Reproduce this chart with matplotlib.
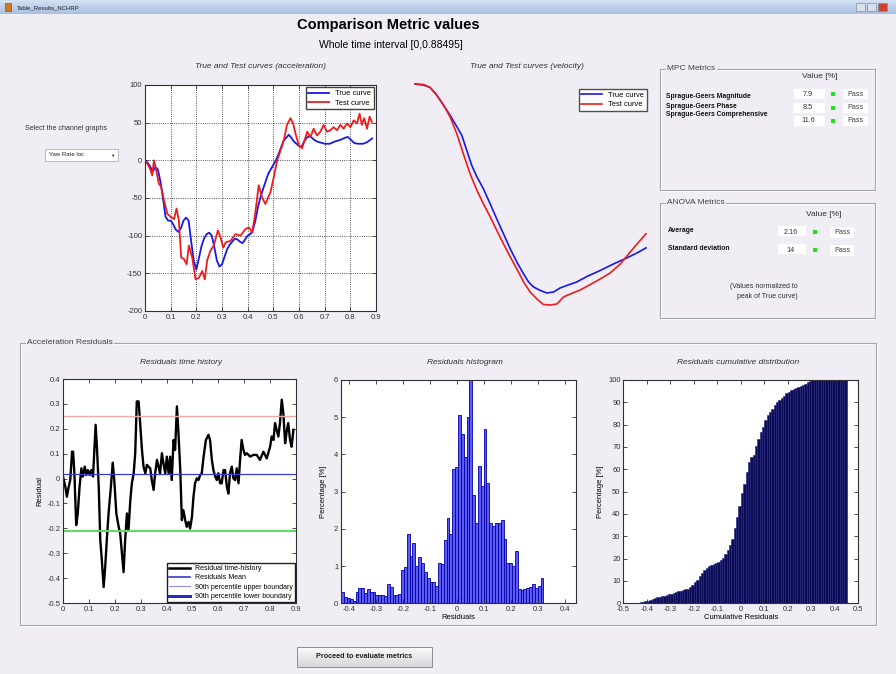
import numpy as np
import matplotlib
matplotlib.use('Agg')
import matplotlib.pyplot as plt
from matplotlib.patches import Rectangle
from matplotlib.lines import Line2D
from matplotlib.ticker import FuncFormatter, MultipleLocator

plt.rcParams['font.family'] = ['Liberation Sans', 'DejaVu Sans']

# ---------------- data ----------------
acc_t_true = [0.000, 0.010, 0.020, 0.030, 0.040, 0.050, 0.060, 0.070, 0.080, 0.090,
              0.100, 0.110, 0.120, 0.130, 0.140, 0.150, 0.160, 0.170, 0.180, 0.190,
              0.200, 0.210, 0.220, 0.230, 0.240, 0.250, 0.260, 0.270, 0.280, 0.290,
              0.300, 0.310, 0.320, 0.330, 0.340, 0.350, 0.360, 0.370, 0.380, 0.390,
              0.400, 0.410, 0.420, 0.430, 0.440, 0.450, 0.460, 0.470, 0.480, 0.490,
              0.500, 0.510, 0.520, 0.530, 0.540, 0.550, 0.560, 0.570, 0.580, 0.590,
              0.600, 0.610, 0.620, 0.630, 0.640, 0.650, 0.660, 0.670, 0.680, 0.690,
              0.700, 0.720, 0.740, 0.760, 0.780, 0.790, 0.800, 0.815, 0.830, 0.850,
              0.865, 0.885]
acc_true = [0, -3, -8, -15, -9, -12, -28, -50, -75, -80,
            -80, -85, -92, -95, -90, -80, -76, -80, -108, -133,
            -145, -130, -114, -104, -98, -96, -100, -115, -133, -141,
            -138, -128, -118, -112, -108, -104, -105, -108, -110, -105,
            -100, -98, -93, -80, -62, -49, -38, -28, -18, -12,
            -6, 0, 8, 17, 26, 30, 34, 30, 25, 22,
            19, 18, 25, 30, 32, 30, 27, 25, 24, 23,
            22, 22, 25, 27, 30, 31, 28, 23, 22, 22,
            24, 29]

acc_t_test = [0.000, 0.010, 0.022, 0.028, 0.035, 0.041, 0.054, 0.063, 0.074, 0.087,
              0.100, 0.113, 0.123, 0.132, 0.141, 0.152, 0.162, 0.171, 0.184, 0.197,
              0.210, 0.223, 0.233, 0.242, 0.255, 0.268, 0.284, 0.294, 0.305, 0.314,
              0.333, 0.353, 0.372, 0.392, 0.405, 0.418, 0.430, 0.443, 0.456, 0.469,
              0.489, 0.502, 0.515, 0.528, 0.541, 0.553, 0.567, 0.577, 0.586, 0.599,
              0.612, 0.622, 0.632, 0.645, 0.657, 0.670, 0.683, 0.696, 0.709, 0.722,
              0.735, 0.748, 0.761, 0.774, 0.787, 0.800, 0.813, 0.826, 0.836, 0.845,
              0.854, 0.865, 0.875, 0.884]
acc_test = [0, -5, -13, -20, 0, -9, -31, -35, -53, -71,
            -75, -78, -64, -80, -129, -131, -138, -113, -129, -158,
            -156, -147, -158, -133, -120, -113, -93, -102, -116, -109,
            -107, -98, -100, -91, -89, -96, -69, -33, -49, -58,
            -42, -22, 0, 13, 27, 47, 56, 49, 36, 20,
            16, 27, 38, 31, 42, 33, 38, 47, 38, 40,
            44, 40, 47, 42, 49, 44, 53, 49, 62, 47,
            56, 42, 58, 51]

vel_t_true = [0.000, 0.032, 0.058, 0.083, 0.109, 0.134, 0.160, 0.179, 0.198, 0.217,
              0.237, 0.262, 0.288, 0.313, 0.339, 0.365, 0.390, 0.416, 0.435, 0.454,
              0.480, 0.505, 0.531, 0.556, 0.582, 0.620, 0.659, 0.710, 0.761, 0.812,
              0.851, 0.885]
vel_true = [0.0, -0.2, -0.7, -2.2, -4.2, -6.2, -8.5, -10.2, -13.2, -16.2,
            -18.5, -20.9, -23.9, -26.9, -29.9, -32.9, -35.5, -37.9, -39.5, -40.5,
            -41.2, -41.7, -41.5, -40.7, -40.2, -39.5, -38.4, -37.2, -35.9, -34.7,
            -33.7, -32.7]
vel_t_test = [0.000, 0.032, 0.058, 0.083, 0.109, 0.134, 0.160, 0.185, 0.211, 0.237,
              0.262, 0.288, 0.313, 0.339, 0.365, 0.390, 0.416, 0.441, 0.467, 0.492,
              0.518, 0.544, 0.569, 0.595, 0.633, 0.672, 0.710, 0.748, 0.787, 0.825,
              0.863, 0.885]
vel_test = [0.0, -0.1, -0.7, -2.2, -4.2, -6.5, -9.9, -13.9, -17.9, -21.2,
            -23.9, -26.5, -29.2, -31.9, -34.5, -36.9, -39.5, -41.5, -42.9, -44.0,
            -44.1, -43.9, -42.5, -41.9, -41.1, -40.0, -38.9, -37.7, -35.9, -33.5,
            -31.2, -29.9]

res_t = [0.000, 0.009, 0.015, 0.022, 0.028, 0.035, 0.039, 0.044, 0.051, 0.057,
         0.064, 0.071, 0.077, 0.084, 0.090, 0.096, 0.103, 0.109, 0.116, 0.121,
         0.126, 0.131, 0.138, 0.144, 0.150, 0.157, 0.163, 0.170, 0.176, 0.185,
         0.192, 0.198, 0.206, 0.215, 0.221, 0.228, 0.234, 0.240, 0.247, 0.253,
         0.260, 0.266, 0.273, 0.279, 0.285, 0.292, 0.298, 0.305, 0.311, 0.318,
         0.324, 0.330, 0.337, 0.343, 0.350, 0.356, 0.363, 0.369, 0.375, 0.382,
         0.388, 0.395, 0.401, 0.408, 0.414, 0.420, 0.427, 0.433, 0.440, 0.446,
         0.453, 0.459, 0.465, 0.472, 0.478, 0.485, 0.491, 0.498, 0.504, 0.510,
         0.517, 0.523, 0.530, 0.536, 0.543, 0.552, 0.562, 0.568, 0.575, 0.581,
         0.588, 0.594, 0.600, 0.607, 0.613, 0.620, 0.626, 0.633, 0.639, 0.645,
         0.652, 0.658, 0.665, 0.671, 0.678, 0.684, 0.690, 0.697, 0.703, 0.710,
         0.723, 0.735, 0.748, 0.761, 0.774, 0.787, 0.800, 0.806, 0.813, 0.819,
         0.825, 0.832, 0.838, 0.845, 0.851, 0.858, 0.864, 0.870, 0.877, 0.883,
         0.890]
res_val = [0.008, -0.033, -0.073, -0.033, -0.006, 0.108, 0.108, 0.021, -0.187, -0.140,
           -0.033, 0.041, 0.008, 0.048, 0.014, 0.034, 0.014, 0.034, 0.008, 0.115,
           0.216, 0.128, -0.033, -0.248, -0.328, -0.436, -0.355, -0.234, -0.140, -0.033,
           0.064, -0.006, -0.140, -0.194, -0.221, -0.302, -0.376, -0.248, -0.140, -0.208,
           -0.087, -0.019, 0.021, 0.102, 0.310, 0.310, 0.223, 0.115, 0.048, 0.021,
           0.055, 0.048, 0.041, -0.006, -0.046, 0.021, 0.075, 0.048, 0.021, 0.102,
           0.061, 0.021, 0.088, 0.021, 0.088, -0.006, 0.155, 0.115, 0.290, 0.182,
           0.034, -0.167, -0.127, -0.167, -0.194, -0.174, -0.201, -0.154, -0.073, -0.019,
           0.001, -0.006, 0.014, 0.021, 0.088, 0.155, 0.176, 0.155, 0.075, 0.034,
           0.008, -0.006, 0.021, -0.019, -0.019, 0.034, 0.034, -0.033, -0.060, 0.021,
           0.048, 0.001, -0.006, 0.041, -0.019, 0.075, 0.155, 0.115, 0.095, 0.102,
           0.088, 0.095, 0.095, 0.075, 0.108, 0.081, 0.128, 0.169, 0.155, 0.223,
           0.196, 0.169, 0.223, 0.317, 0.263, 0.142, 0.189, 0.223, 0.155, 0.128,
           0.196]
res_upper = 0.25
res_mean = 0.02
res_lower = -0.21

hist_lo, hist_hi = -0.43, 0.32
hist_pct = [0.30, 0.16, 0.13, 0.12, 0.06, 0.31, 0.40, 0.40, 0.27, 0.38,
            0.31, 0.31, 0.22, 0.21, 0.22, 0.20, 0.51, 0.43, 0.21, 0.22,
            0.26, 0.90, 0.97, 1.86, 1.27, 1.61, 1.01, 1.25, 1.07, 0.85,
            0.67, 0.56, 0.56, 0.47, 1.07, 1.05, 1.70, 2.28, 1.86, 3.60,
            3.67, 5.06, 4.54, 3.94, 5.00, 6.00, 2.91, 2.15, 3.70, 3.15,
            4.67, 3.22, 2.15, 2.09, 2.15, 2.15, 2.24, 1.73, 1.07, 1.07,
            1.01, 1.41, 0.38, 0.36, 0.38, 0.42, 0.43, 0.52, 0.40, 0.47,
            0.69]

cum_lo, cum_hi = -0.45, 0.45
cum_pct = [0.2, 0.3, 0.5, 0.7, 0.9, 1.1, 1.4, 1.9, 2.2, 2.6,
           3.0, 3.2, 3.4, 3.7, 4.0, 4.3, 4.6, 5.0, 5.3, 5.6,
           5.9, 6.2, 6.6, 7.2, 8.0, 9.4, 10.6, 12.2, 13.6, 15.0,
           16.0, 16.6, 17.1, 17.6, 18.1, 18.7, 19.5, 20.3, 22.0, 24.0,
           26.2, 29.0, 33.5, 38.5, 43.5, 49.5, 53.5, 59.0, 63.5, 65.5,
           66.5, 70.5, 73.5, 76.5, 79.0, 82.0, 84.5, 85.7, 87.2, 88.6,
           90.0, 91.2, 92.0, 92.8, 94.0, 94.8, 95.5, 96.0, 96.5, 97.0,
           97.4, 97.8, 98.3, 98.9, 99.5, 100, 100, 100, 100, 100,
           100, 100, 100, 100, 100, 100, 100, 100, 100, 100]

mpc_names = ['Sprague-Geers Magnitude', 'Sprague-Geers Phase', 'Sprague-Geers Comprehensive']
mpc_values = ['7.9', '8.5', '11.6']
anova_names = ['Average', 'Standard deviation']
anova_values = ['2.16', '14']

# ---------------- layout ----------------
W, H = 896, 674
BG = '#f0eef4'
fig = plt.figure(figsize=(W / 100, H / 100), dpi=100, facecolor=BG)


def fpos(l, t, r, b):
    return [l / W, 1 - b / H, (r - l) / W, (b - t) / H]


bg = fig.add_axes([0, 0, 1, 1], zorder=-10)
bg.set_facecolor(BG)
grad = np.linspace(0, 1, 20)[:, None] * np.ones((1, 2))
bg.imshow(grad, extent=(0, W, 14, 0), aspect='auto',
          cmap=matplotlib.colors.LinearSegmentedColormap.from_list('tb', ['#d4e1f2', '#a8c0e2']))
bg.set_xlim(0, W)
bg.set_ylim(H, 0)
bg.axis('off')
bg.add_patch(Rectangle((5, 3), 6, 8, fc='#d07a20', ec='#804010', lw=0.4))
bg.text(17, 7.5, 'Table_Results_NCHRP', fontsize=4.3, va='center', color='#202020')
for i, c in enumerate(['#d8e0ec', '#d8e0ec', '#d04030']):
    bg.add_patch(Rectangle((856 + i * 11, 3), 9, 8, fc=c, ec='#8090a8', lw=0.5))

bg.text(388, 25, 'Comparison Metric values', fontsize=10.5, fontweight='bold', ha='center', va='center')
bg.text(391, 45, 'Whole time interval [0,0.88495]', fontsize=7.5, ha='center', va='center')


def fmt(v, p):
    if abs(v) < 1e-9:
        return '0'
    return '%g' % round(v, 3)


def style_axes(ax):
    for s in ax.spines.values():
        s.set_color('#303030')
        s.set_linewidth(0.8)
    ax.tick_params(direction='in', length=3, width=0.6, top=True, right=True,
                   labelsize=5.5, pad=2, colors='#303030')
    ax.xaxis.set_major_formatter(FuncFormatter(fmt))
    ax.yaxis.set_major_formatter(FuncFormatter(fmt))


# --- acceleration ---
ax1 = fig.add_axes(fpos(145, 85, 376, 311))
ax1.plot(acc_t_true, acc_true, color='#1818e8', lw=1.3, label='True curve')
ax1.plot(acc_t_test, acc_test, color='#ee1c1c', lw=1.3, label='Test curve')
ax1.set_xlim(0, 0.9)
ax1.set_ylim(-200, 100)
ax1.xaxis.set_major_locator(MultipleLocator(0.1))
ax1.yaxis.set_major_locator(MultipleLocator(50))
ax1.grid(True, ls=':', color='#202020', lw=0.6)
style_axes(ax1)
ax1.legend(loc='upper right', fontsize=5.4, fancybox=False, edgecolor='#404040', framealpha=1,
           handlelength=2.8, borderaxespad=0.3, labelspacing=0.3, borderpad=0.35)
bg.text(260, 66, 'True and Test curves (acceleration)', fontsize=6, style='italic', ha='center', va='center', color='#303030')

# --- velocity ---
ax2 = fig.add_axes(fpos(415, 84, 646, 305))
ax2.plot(vel_t_true, vel_true, color='#1818e8', lw=1.2, label='True curve', clip_on=False)
ax2.plot(vel_t_test, vel_test, color='#ee1c1c', lw=1.2, label='Test curve', clip_on=False)
ax2.set_xlim(0, 0.885)
ax2.set_ylim(-44.1, 0)
ax2.axis('off')
ax2.legend(loc='upper right', bbox_to_anchor=(647 / W, 1 - 89 / H), bbox_transform=fig.transFigure,
           fontsize=5.4, fancybox=False, edgecolor='#505050', framealpha=1, borderaxespad=0,
           handlelength=2.8, labelspacing=0.3, borderpad=0.35)
bg.text(527, 66, 'True and Test curves (velocity)', fontsize=6, style='italic', ha='center', va='center', color='#303030')


# --- panels ---
def panel(l, t, r, b, title, tx):
    bg.add_patch(Rectangle((l + 1, t + 1), r - l, b - t, fill=False, ec='white', lw=0.8))
    bg.add_patch(Rectangle((l, t), r - l, b - t, fill=False, ec='#a4a4ac', lw=0.8))
    bg.text(tx, t, title, fontsize=6, va='center', color='#404040',
            bbox=dict(fc=BG, ec='none', pad=1.0))


panel(660, 69, 875, 190, 'MPC Metrics', 667)
panel(660, 203, 875, 318, 'ANOVA Metrics', 667)
panel(20, 343, 876, 625, 'Acceleration Residuals', 27)

bg.text(820, 77, 'Value [%]', fontsize=6, ha='center', va='center', color='#303030')
label_y = [97, 106, 115]
box_y = [94, 107.5, 121]
for name, val, ly, by in zip(mpc_names, mpc_values, label_y, box_y):
    bg.text(666, ly, name, fontsize=4.9, fontweight='bold', va='center', color='#101010')
    bg.add_patch(Rectangle((794, by - 5), 31, 10, fc='white', ec='none'))
    bg.text(808, by, val, fontsize=5.2, ha='center', va='center', color='#303030')
    bg.add_patch(Rectangle((831, by - 2), 4, 4, fc='#20e020', ec='none'))
    bg.add_patch(Rectangle((843, by - 5), 25, 10, fc='white', ec='none'))
    bg.text(855, by, 'Pass', fontsize=5.2, ha='center', va='center', color='#404040')

bg.text(824, 214, 'Value [%]', fontsize=6, ha='center', va='center', color='#303030')
for name, val, ly in zip(anova_names, anova_values, [231, 249]):
    bg.text(668, ly, name, fontsize=4.9, fontweight='bold', va='center', color='#101010')
    bg.add_patch(Rectangle((778, ly - 5), 28, 10, fc='white', ec='none'))
    bg.text(791, ly + 1.5, val, fontsize=5.2, ha='center', va='center', color='#303030')
    bg.add_patch(Rectangle((813, ly - 1), 4, 4, fc='#20e020', ec='none'))
    bg.add_patch(Rectangle((830, ly - 4), 24, 11, fc='white', ec='none'))
    bg.text(842, ly + 1.5, 'Pass', fontsize=5.2, ha='center', va='center', color='#404040')
bg.text(764, 287, '(Values normalized to', fontsize=5, ha='center', va='center', color='#303030')
bg.text(767, 297, 'peak of True curve)', fontsize=5, ha='center', va='center', color='#303030')

# left controls
bg.text(25, 128, 'Select the channel graphs', fontsize=5, va='center', color='#303030')
bg.add_patch(Rectangle((45, 149), 73, 12, fc='white', ec='#b0b0b8', lw=0.6))
bg.text(49, 155, 'Yaw Rate loc', fontsize=4.3, va='center', color='#202020')
bg.text(112, 155.5, '\u25BC', fontsize=3.2, ha='center', va='center', color='#202020')

# button
btn = np.linspace(0, 1, 20)[:, None] * np.ones((1, 2))
bg.imshow(btn, extent=(297, 432, 667, 647), aspect='auto',
          cmap=matplotlib.colors.LinearSegmentedColormap.from_list('bt', ['#fafafa', '#d8d8dc']))
bg.set_xlim(0, W)
bg.set_ylim(H, 0)
bg.add_patch(Rectangle((297, 647), 135, 20, fill=False, ec='#8c8c94', lw=0.7))
bg.text(364.5, 657, 'Proceed to evaluate metrics', fontsize=5.2, fontweight='bold', ha='center', va='center', color='#202020')

# --- residual time history ---
ax4 = fig.add_axes(fpos(63, 379, 296, 603))
ax4.plot(res_t, res_val, color='black', lw=1.7)
ax4.axhline(res_mean, color='#3a3ad8', lw=0.9)
ax4.axhline(res_upper, color='#f0a8a8', lw=1.0)
ax4.axhline(res_lower, color='#58e058', lw=1.4)
ax4.set_xlim(0, 0.9)
ax4.set_ylim(-0.5, 0.4)
ax4.xaxis.set_major_locator(MultipleLocator(0.1))
ax4.yaxis.set_major_locator(MultipleLocator(0.1))
style_axes(ax4)
ax4.set_ylabel('Residual', fontsize=5.5, labelpad=3)
handles = [Line2D([], [], color='black', lw=1.8),
           Line2D([], [], color='#3a3ad0', lw=1.2),
           Line2D([], [], color='#8c8ce0', lw=0.8),
           Line2D([], [], color='#2a2ac8', lw=2.2)]
labels = ['Residual time-history', 'Residuals Mean',
          '90th percentile upper boundary', '90th percentile lower boundary']
ax4.legend(handles, labels, loc='lower right', fontsize=5, fancybox=False, edgecolor='#202020',
           framealpha=1, borderaxespad=0.1, handlelength=3.0, labelspacing=0.35, borderpad=0.3)
bg.text(181, 363, 'Residuals time history', fontsize=6, style='italic', ha='center', va='center', color='#303030')

# --- histogram ---
ax5 = fig.add_axes(fpos(341, 380, 576, 603.3))
edges = np.linspace(hist_lo, hist_hi, len(hist_pct) + 1)
ax5.bar((edges[:-1] + edges[1:]) / 2, hist_pct, width=np.diff(edges), color='#5c5cf2',
        edgecolor='#0000a8', lw=0.6)
ax5.set_xlim(-0.431, 0.441)
ax5.set_ylim(0, 6)
ax5.xaxis.set_major_locator(MultipleLocator(0.1))
ax5.yaxis.set_major_locator(MultipleLocator(1))
style_axes(ax5)
ax5.set_xlabel('Residuals', fontsize=5.5, labelpad=1)
ax5.set_ylabel('Percentage [%]', fontsize=5.5, labelpad=5)
bg.text(465, 363, 'Residuals histogram', fontsize=6, style='italic', ha='center', va='center', color='#303030')

# --- cumulative ---
ax6 = fig.add_axes(fpos(623.3, 380, 858.3, 603.3))
cedges = np.linspace(cum_lo, cum_hi, len(cum_pct) + 1)
ax6.bar((cedges[:-1] + cedges[1:]) / 2, cum_pct, width=np.diff(cedges), color='#0c0c56',
        edgecolor='#22227a', lw=0.4)
ax6.set_xlim(-0.5, 0.5)
ax6.set_ylim(0, 100)
ax6.xaxis.set_major_locator(MultipleLocator(0.1))
ax6.yaxis.set_major_locator(MultipleLocator(10))
style_axes(ax6)
ax6.set_xlabel('Cumulative Residuals', fontsize=5.5, labelpad=1)
ax6.set_ylabel('Percentage [%]', fontsize=5.5, labelpad=3)
bg.text(738, 363, 'Residuals cumulative distribution', fontsize=6, style='italic', ha='center', va='center', color='#303030')

fig.savefig('out.png', dpi=100, facecolor=BG)
